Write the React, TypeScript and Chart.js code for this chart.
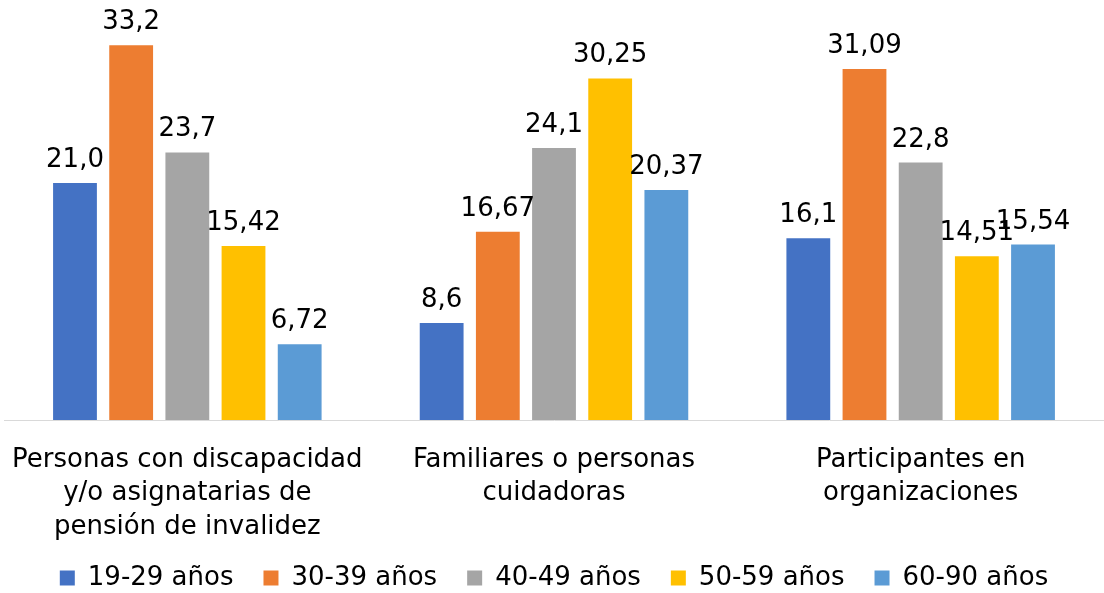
import React, { useEffect, useRef } from "react";
import { Chart, registerables } from "chart.js";

Chart.register(...registerables);

const categories: string[][] = [
  ["Personas con discapacidad", "y/o asignatarias de", "pensión de invalidez"],
  ["Familiares o personas", "cuidadoras"],
  ["Participantes en", "organizaciones"],
];

const seriesNames = ["19-29 años", "30-39 años", "40-49 años", "50-59 años", "60-90 años"];
const seriesColors = ["#4472C4", "#ED7D31", "#A5A5A5", "#FFC000", "#5B9BD5"];

const age19_29 = [21.0, 8.6, 16.1];
const age30_39 = [33.2, 16.67, 31.09];
const age40_49 = [23.7, 24.1, 22.8];
const age50_59 = [15.42, 30.25, 14.51];
const age60_90 = [6.72, 20.37, 15.54];

const labels19_29 = ["21,0", "8,6", "16,1"];
const labels30_39 = ["33,2", "16,67", "31,09"];
const labels40_49 = ["23,7", "24,1", "22,8"];
const labels50_59 = ["15,42", "30,25", "14,51"];
const labels60_90 = ["6,72", "20,37", "15,54"];

const seriesValues = [age19_29, age30_39, age40_49, age50_59, age60_90];
const seriesLabels = [labels19_29, labels30_39, labels40_49, labels50_59, labels60_90];

const FONT = "'DejaVu Sans', Verdana, sans-serif";

const valueLabelPlugin = {
  id: "valueLabels",
  afterDatasetsDraw(chart: any) {
    const ctx = chart.ctx;
    ctx.save();
    ctx.font = `26px ${FONT}`;
    ctx.fillStyle = "#000000";
    ctx.textAlign = "center";
    ctx.textBaseline = "alphabetic";
    chart.data.datasets.forEach((ds: any, di: number) => {
      const meta = chart.getDatasetMeta(di);
      meta.data.forEach((el: any, i: number) => {
        ctx.fillText(seriesLabels[di][i], el.x, el.y - 16);
      });
    });
    ctx.restore();
  },
};

const legendFitPlugin = {
  id: "legendFit",
  beforeUpdate(chart: any) {
    const lg = chart.legend;
    if (lg && !lg.__patched) {
      const origFit = lg.fit.bind(lg);
      lg.fit = function () {
        origFit();
        this.height = 51;
      };
      const origDraw = lg.draw.bind(lg);
      lg.draw = function (...args: any[]) {
        const ctx = chart.ctx;
        ctx.save();
        ctx.translate(0, -7);
        origDraw(...args);
        ctx.restore();
      };
      lg.__patched = true;
    }
  },
};

export default function App() {
  const ref = useRef<HTMLCanvasElement | null>(null);
  useEffect(() => {
    if (!ref.current) return;
    const chart = new Chart(ref.current, {
      type: "bar",
      data: {
        labels: categories,
        datasets: seriesNames.map((name, i) => ({
          label: name,
          data: seriesValues[i],
          backgroundColor: seriesColors[i],
          borderWidth: 0,
          categoryPercentage: 0.766,
          barPercentage: 0.78,
        })),
      },
      options: {
        animation: false,
        responsive: true,
        maintainAspectRatio: false,
        layout: { padding: { left: 4, right: 0, top: 0, bottom: 0 } },
        plugins: {
          tooltip: { enabled: false },
          legend: {
            position: "bottom",
            labels: {
              font: { family: FONT, size: 26 },
              color: "#000000",
              boxWidth: 15,
              boxHeight: 15,
              padding: 30,
            },
          },
        },
        scales: {
          x: {
            grid: { display: false, drawTicks: false },
            border: { display: true, color: "#d9d9d9", width: 1 },
            ticks: {
              font: { family: FONT, size: 26, lineHeight: 1.29 },
              color: "#000000",
              padding: 23,
              maxRotation: 0,
              autoSkip: false,
            },
            afterFit(scale: any) {
              scale.paddingLeft = 0;
              scale.paddingRight = 0;
              scale.height = 122;
            },
          },
          y: {
            display: false,
            min: 0,
            max: 37.2,
          },
        },
      },
      plugins: [valueLabelPlugin, legendFitPlugin],
    });
    return () => chart.destroy();
  }, []);
  return (
    <div style={{ position: "fixed", left: 0, top: 0, width: 1104, height: 593 }}>
      <canvas ref={ref} />
    </div>
  );
}
